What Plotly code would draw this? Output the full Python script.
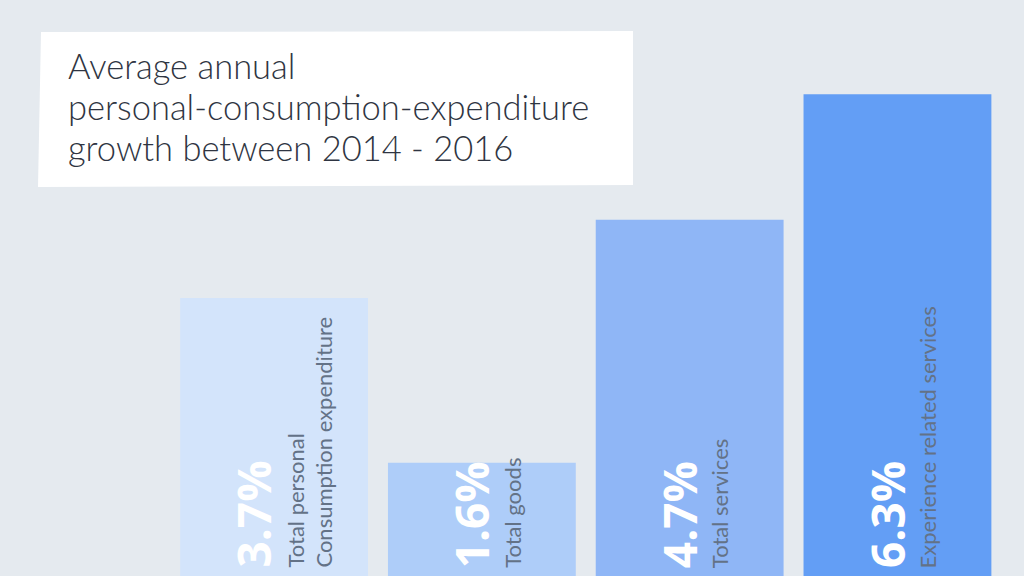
import plotly.graph_objects as go

categories = ["Total personal<br>Consumption expenditure", "Total goods",
              "Total services", "Experience related services"]
values = [3.7, 1.6, 4.7, 6.3]
value_labels = ["3.7%", "1.6%", "4.7%", "6.3%"]
bar_colors = ["#d3e4fb", "#aecdf9", "#8fb6f6", "#639ef5"]
title_lines = ["Average annual", "personal-consumption-expenditure",
               "growth between 2014 - 2016"]

W, H = 1024, 576
BG = "#e5eaef"
LABEL_COLOR = "#637287"

xs = list(range(len(categories)))

fig = go.Figure()
fig.add_trace(go.Bar(
    x=xs, y=values,
    marker=dict(color=bar_colors, line=dict(width=0)),
    width=0.904,
    hoverinfo="skip",
))

annotations = []
# Title lines
title_baselines = [80, 121, 162]
for line, base in zip(title_lines, title_baselines):
    annotations.append(dict(
        text=line, xref="paper", yref="paper",
        x=66 / W, y=1 - (base + 8) / H,
        xanchor="left", yanchor="bottom", showarrow=False,
        font=dict(family="Lato", size=34.5, color="#2f3542", weight=300),
    ))

for i, (cat, lab) in enumerate(zip(categories, value_labels)):
    two_line = "<br>" in cat
    pct_shift = -22 if two_line else -11
    lab_shift = 35 if two_line else 30
    annotations.append(dict(
        text=f"<b>{lab}</b>", x=i, xref="x", yref="paper", y=(576 - 570) / H,
        xanchor="center", yanchor="bottom", xshift=pct_shift,
        showarrow=False, textangle=-90,
        font=dict(family="Open Sans", size=46, color="white", weight=800),
    ))
    annotations.append(dict(
        text=cat, x=i, xref="x", yref="paper", y=(576 - 570) / H,
        xanchor="center", yanchor="bottom", xshift=lab_shift, align="left",
        showarrow=False, textangle=-90,
        font=dict(family="Lato", size=22, color=LABEL_COLOR),
    ))

shapes = [dict(
    type="path", xref="paper", yref="paper", layer="below",
    path=f"M {41/W},{1-32/H} L {633/W},{1-31/H} L {633/W},{1-185/H} L {38/W},{1-187/H} Z",
    fillcolor="white", line=dict(width=0),
)]

fig.update_layout(
    width=W, height=H,
    margin=dict(l=0, r=0, t=0, b=0),
    paper_bgcolor=BG, plot_bgcolor=BG,
    showlegend=False,
    xaxis=dict(range=[-1.319, 3.609], visible=False, fixedrange=True),
    yaxis=dict(range=[0.158, 7.50], visible=False, fixedrange=True),
    annotations=annotations,
    shapes=shapes,
)

fig.write_html(
    "out.html",
    config={"displayModeBar": False},
    post_script="document.body.style.margin='0';document.body.style.overflow='hidden';",
)
